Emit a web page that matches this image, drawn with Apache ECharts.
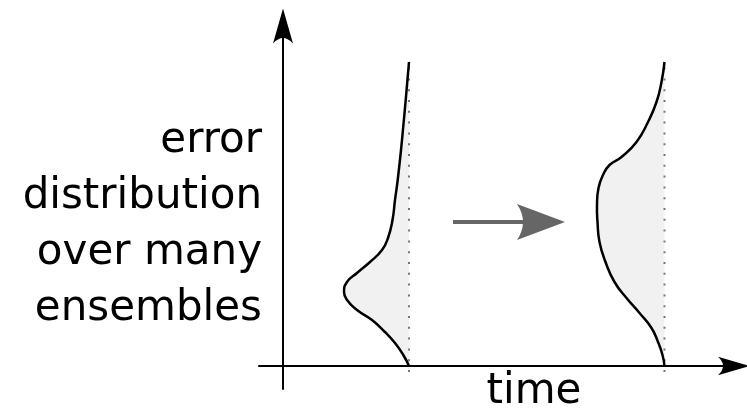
<!DOCTYPE html>
<html>
<head>
<meta charset="utf-8">
<script src="https://cdn.jsdelivr.net/npm/echarts@6/dist/echarts.min.js"></script>
<style>
html, body { margin: 0; padding: 0; background: #fff; }
#chart { width: 747px; height: 415px; }
</style>
</head>
<body>
<div id="chart"></div>
<script>
// two moments in time, each with the spread of the error (level on the error axis,
// density drawn to the left of the moment's time line)
var times = [126, 381.5];
var dist1Levels  = [304, 266, 240, 213, 186, 166, 146, 128, 116, 104, 93, 84, 74, 66, 56, 46, 34, 23, 11, 0];
var dist1Density = [0, 3.3, 5.7, 8.3, 11.3, 14, 16.5, 21, 27, 39, 52, 62, 65, 62, 52, 37, 24, 14, 5.7, 0];
var dist2Levels  = [304, 284, 264, 244, 224, 209, 201, 191, 178, 161, 144, 124, 104, 84, 68, 53, 38, 24, 11, 0];
var dist2Density = [0, 3, 8, 16.5, 28, 43, 55, 61.5, 66, 67.5, 67, 65, 59, 50, 38, 25, 13, 6.5, 2, 0];
var guideRange = [-6, 304];      // dotted time line, bottom and top
var shiftFrom = [170, 144];      // grey arrow between the two moments
var shiftTo = [258, 144];

var axisArrow = 'path://M0,0 L10,35 Q0,24 -10,35 Z';
var greyHead = 'path://M0,0 L18,48 Q0,36 -18,48 Z';

function curve(t, levels, dens) {
    return levels.map(function (l, i) { return [t - dens[i], l]; });
}
var curves = [
    curve(times[0], dist1Levels, dist1Density),
    curve(times[1], dist2Levels, dist2Density)
];

// fill = open smoothed polyline, canvas closes it along the time line
function curveSeries(z, style) {
    return {
        type: 'custom', z: z, silent: true,
        data: [[0], [1]],
        renderItem: function (params, api) {
            var pts = curves[params.dataIndex].map(function (p) { return api.coord(p); });
            return { type: 'polyline', shape: { points: pts, smooth: 0.5 }, style: style };
        }
    };
}

var series = [];
series.push(curveSeries(1, { fill: '#f1f1f1', stroke: null }));
times.forEach(function (t) {
    series.push({
        type: 'line', z: 2, silent: true, symbol: 'none',
        data: [[t, guideRange[0]], [t, guideRange[1]]],
        lineStyle: { color: '#777', width: 2, type: [2, 8.8] }
    });
});
series.push(curveSeries(3, { fill: null, stroke: '#000', lineWidth: 2.5 }));
series.push({
    type: 'line', data: [], silent: true,
    markLine: {
        silent: true,
        symbol: ['none', greyHead],
        symbolSize: [36, 48],
        label: { show: false },
        lineStyle: { color: '#666', width: 4, type: 'solid' },
        data: [[{ coord: shiftFrom }, { coord: shiftTo }]]
    }
});

var chart = echarts.init(document.getElementById('chart'));
chart.setOption({
    animation: false,
    grid: { left: 259, right: 13, top: 26, bottom: 26 },
    xAxis: {
        type: 'value', min: -24, max: 451,
        axisLine: { lineStyle: { color: '#000', width: 2 }, symbol: ['none', axisArrow], symbolSize: [21, 32] },
        axisTick: { show: false }, axisLabel: { show: false }, splitLine: { show: false }
    },
    yAxis: {
        type: 'value', min: -23, max: 340,
        axisLine: { show: true, lineStyle: { color: '#000', width: 2 }, symbol: ['none', axisArrow], symbolSize: [20, 35] },
        axisTick: { show: false }, axisLabel: { show: false }, splitLine: { show: false }
    },
    graphic: [
        {
            type: 'text', x: 262, y: 113,
            style: {
                text: 'error\ndistribution\nover many\nensembles',
                font: '42px "DejaVu Sans"', lineHeight: 56,
                textAlign: 'right', textVerticalAlign: 'top', fill: '#000'
            }
        },
        {
            type: 'text', x: 534, y: 392.5,
            style: {
                text: 'time', font: '42px "DejaVu Sans"',
                textAlign: 'center', textVerticalAlign: 'middle', fill: '#000'
            }
        }
    ],
    series: series
});
</script>
</body>
</html>
